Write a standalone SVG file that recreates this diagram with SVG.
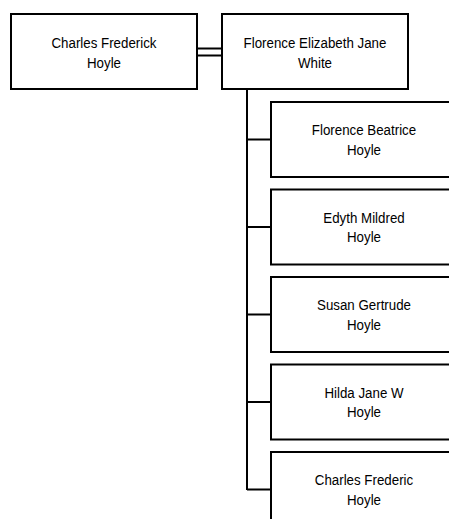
<svg xmlns="http://www.w3.org/2000/svg" width="449" height="519" viewBox="0 0 449 519">
<style>
.box{fill:#fff;stroke:#000;stroke-width:2}
.t{font-family:"Liberation Sans",Arial,sans-serif;font-size:15.5px;fill:#000;text-anchor:middle}
.c{fill:none;stroke:#000;stroke-width:2}
</style>
<rect width="449" height="519" fill="#fff"/>
<g id="connectors">
<line class="c" x1="197" y1="48.5" x2="222" y2="48.5"/>
<line class="c" x1="197" y1="55.5" x2="222" y2="55.5"/>
<path class="c" d="M247 89V490"/>
<path class="c" d="M247 139.5H271M247 227H271M247 314.5H271M247 402H271M247 489.5H271"/>
</g>
<g id="n1"><rect class="box" x="11" y="14" width="186" height="75"/><g transform="translate(104 0) scale(0.86 1)"><text class="t" x="0" y="48.5">Charles Frederick</text><text class="t" x="0" y="68">Hoyle</text></g></g>
<g id="n2"><rect class="box" x="222" y="14" width="186" height="75"/><g transform="translate(315 0) scale(0.86 1)"><text class="t" x="0" y="48.5">Florence Elizabeth Jane</text><text class="t" x="0" y="68">White</text></g></g>
<g id="c1"><rect class="box" x="271" y="102" width="186" height="75"/><g transform="translate(364 0) scale(0.86 1)"><text class="t" x="0" y="135.5">Florence Beatrice</text><text class="t" x="0" y="155">Hoyle</text></g></g>
<g id="c2"><rect class="box" x="271" y="189.5" width="186" height="75"/><g transform="translate(364 0) scale(0.86 1)"><text class="t" x="0" y="223">Edyth Mildred</text><text class="t" x="0" y="242.5">Hoyle</text></g></g>
<g id="c3"><rect class="box" x="271" y="277" width="186" height="75"/><g transform="translate(364 0) scale(0.86 1)"><text class="t" x="0" y="310.5">Susan Gertrude</text><text class="t" x="0" y="330">Hoyle</text></g></g>
<g id="c4"><rect class="box" x="271" y="364.5" width="186" height="75"/><g transform="translate(364 0) scale(0.86 1)"><text class="t" x="0" y="398">Hilda Jane W</text><text class="t" x="0" y="417.5">Hoyle</text></g></g>
<g id="c5"><rect class="box" x="271" y="452" width="186" height="75"/><g transform="translate(364 0) scale(0.86 1)"><text class="t" x="0" y="485.5">Charles Frederic</text><text class="t" x="0" y="505">Hoyle</text></g></g>
</svg>
